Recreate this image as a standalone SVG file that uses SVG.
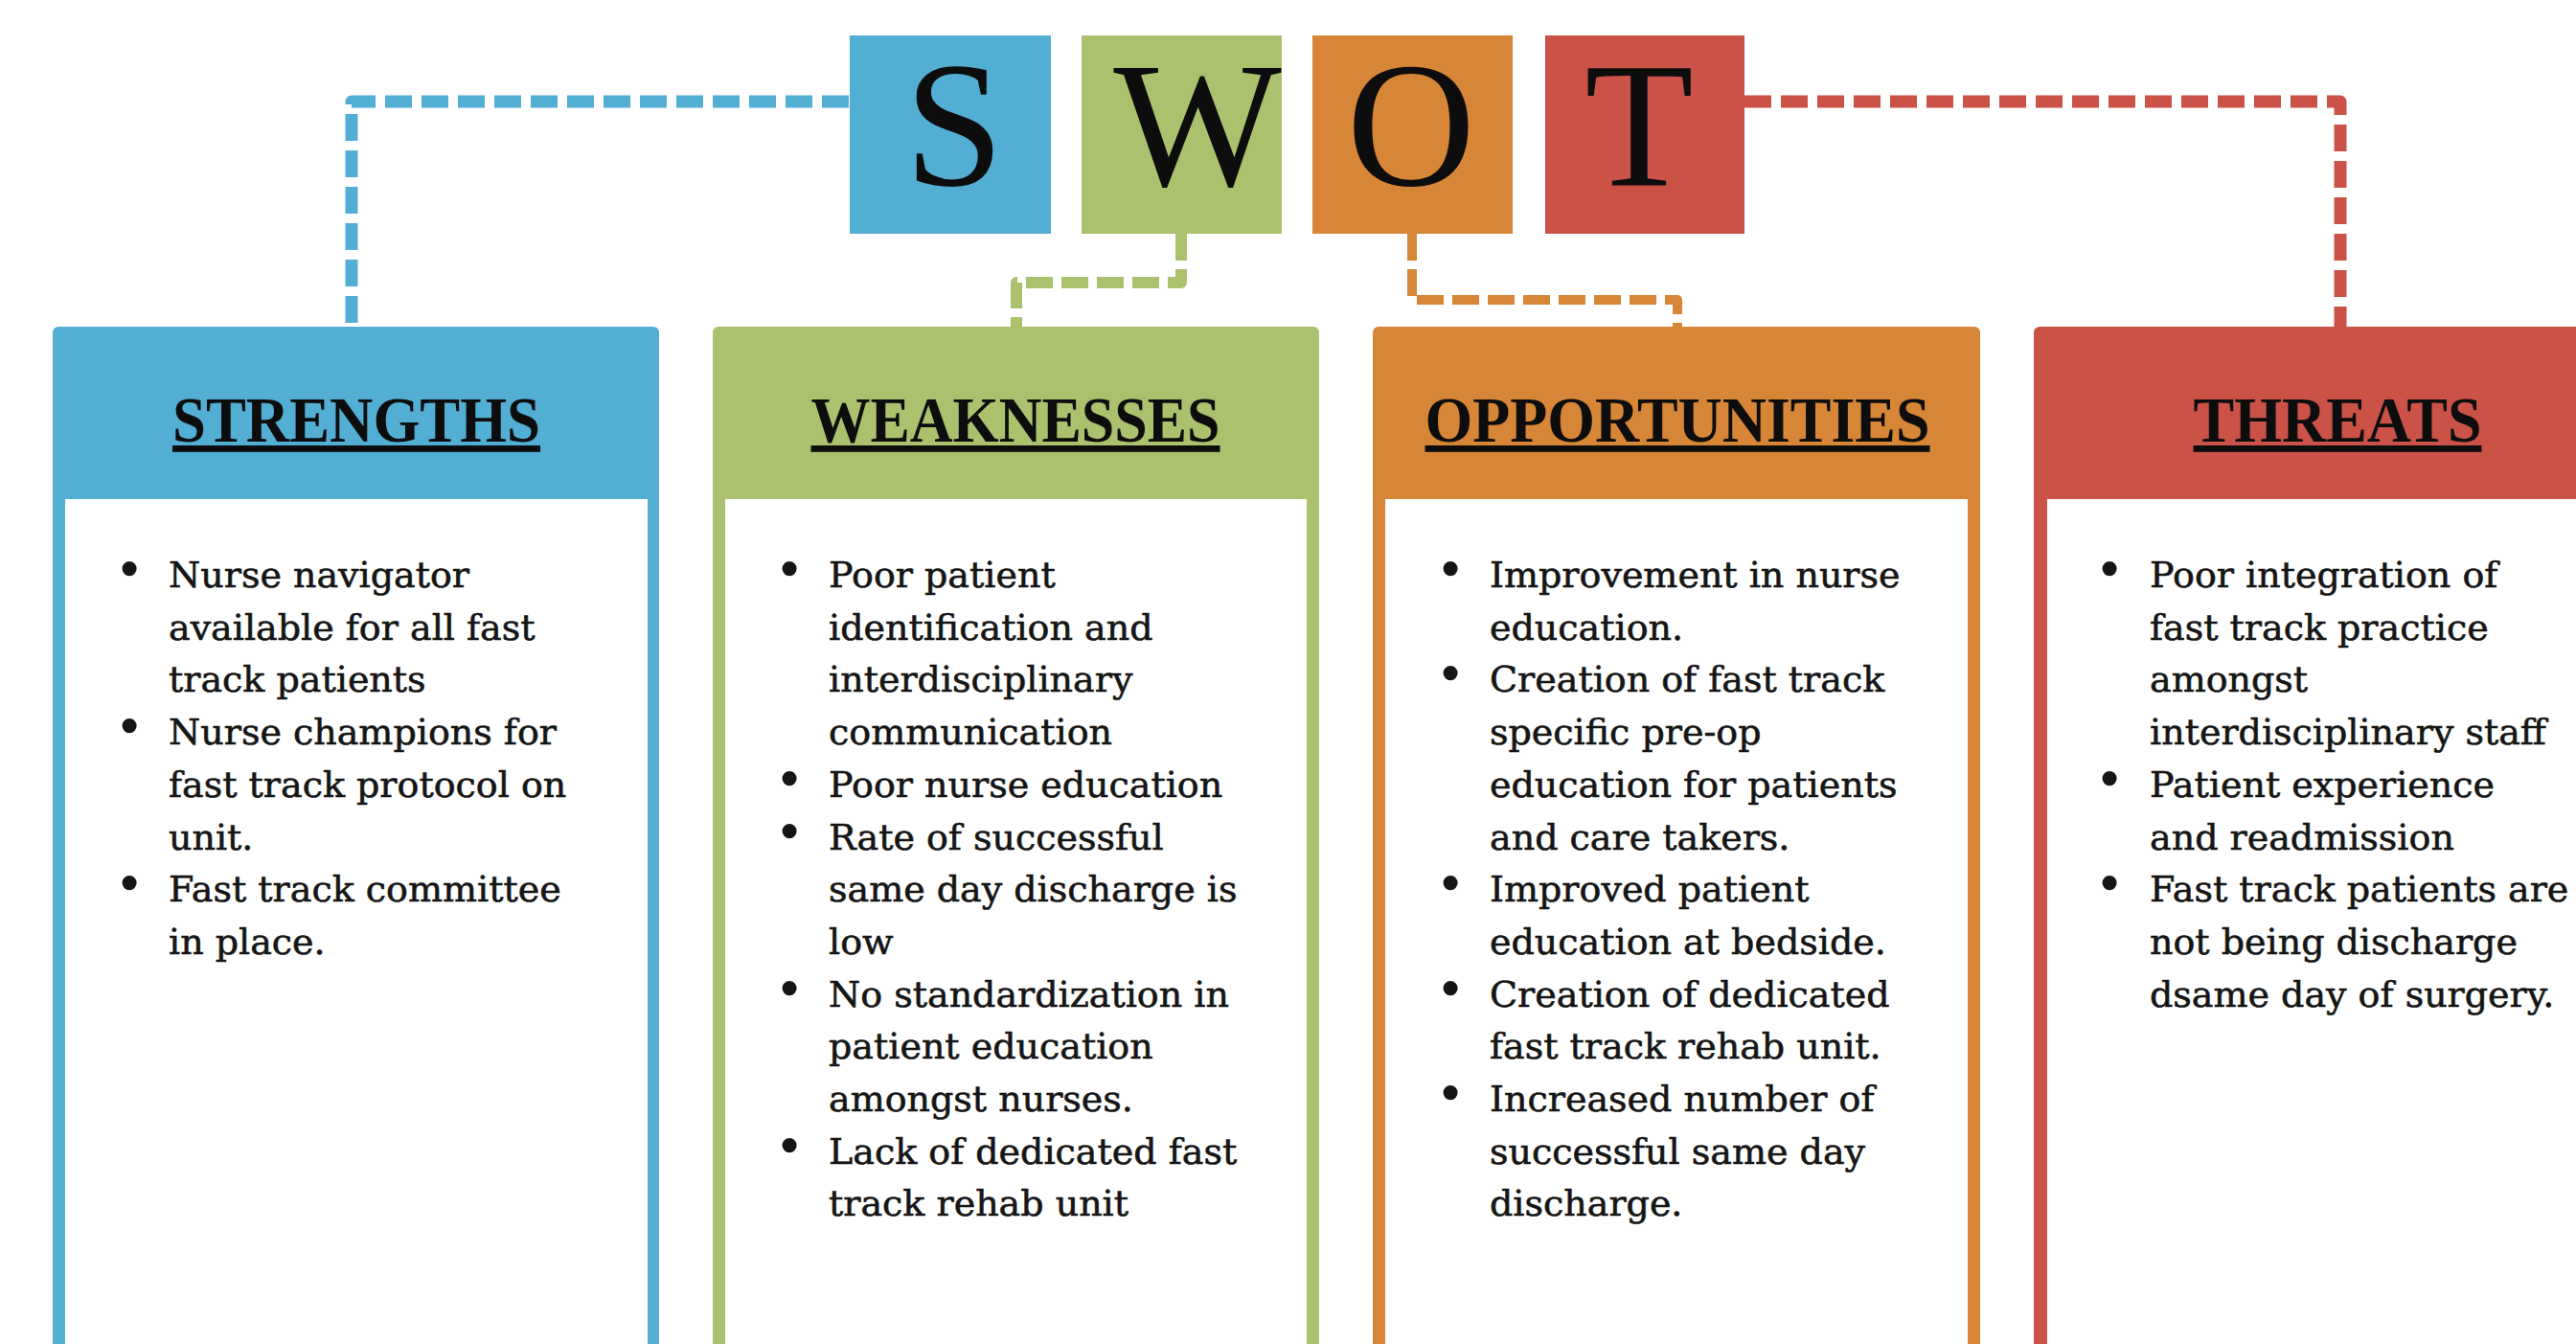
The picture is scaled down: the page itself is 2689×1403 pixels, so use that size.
<svg xmlns="http://www.w3.org/2000/svg" width="2689" height="1403" viewBox="0 0 2689 1403">
<style>
.letter{font-family:"Liberation Serif","Times New Roman",serif;font-size:186px;fill:#0d0d0d;text-anchor:middle}
.head{font-family:"Liberation Serif","Times New Roman",serif;font-weight:bold;font-size:68px;fill:#0d0d0d;text-anchor:middle;text-decoration:underline}
.body{font-family:"DejaVu Serif","Liberation Serif",serif;font-size:38px;fill:#151515;stroke:#151515;stroke-width:0.6px}
.bul{font-family:"DejaVu Serif","Liberation Serif",serif;font-size:52px;fill:#151515;text-anchor:middle}
.conn{fill:none;stroke-linejoin:round}
.blue{fill:#53AED4}.green{fill:#ABC16E}.orange{fill:#D78637}.red{fill:#CB5247}
.inner{fill:#ffffff}
</style>
<rect x="0" y="0" width="2689" height="1403" fill="#ffffff"/>
<g id="connectors">
<path class="conn" d="M886,106 H367 V341" stroke="#53AED4" stroke-width="13" stroke-dasharray="28 10"/>
<path class="conn" d="M1233,244 V295 H1061 V341" stroke="#ABC16E" stroke-width="12" stroke-dasharray="28 9"/>
<path class="conn" d="M1474,244 V313 H1751 V341" stroke="#D78637" stroke-width="10" stroke-dasharray="28 9"/>
<path class="conn" d="M1821,106 H2443 V341" stroke="#CB5247" stroke-width="13" stroke-dasharray="28 10"/>
</g>
<g id="letter-S"><rect class="blue" x="887" y="37" width="210" height="207"/><text class="letter" x="996" y="193">S</text></g>
<g id="letter-W"><rect class="green" x="1129" y="37" width="209" height="207"/><text class="letter" x="1250" y="193">W</text></g>
<g id="letter-O"><rect class="orange" x="1370" y="37" width="209" height="207"/><text class="letter" x="1473" y="193">O</text></g>
<g id="letter-T"><rect class="red" x="1613" y="37" width="208" height="207"/><text class="letter" x="1711" y="193">T</text></g>

<g id="strengths">
<rect class="blue" x="55" y="341" width="633" height="1200" rx="6"/>
<rect class="inner" x="68" y="521" width="608" height="1000"/>
<text class="head" x="372" y="461" textLength="384" lengthAdjust="spacingAndGlyphs">STRENGTHS</text>
<text class="bul" x="135" y="613">•<tspan x="135" dy="164.1">•</tspan><tspan x="135" dy="164.1">•</tspan></text>
<text class="body" x="176" y="613">Nurse navigator<tspan x="176" dy="54.7">available for all fast</tspan><tspan x="176" dy="54.7">track patients</tspan><tspan x="176" dy="54.7">Nurse champions for</tspan><tspan x="176" dy="54.7">fast track protocol on</tspan><tspan x="176" dy="54.7">unit.</tspan><tspan x="176" dy="54.7">Fast track committee</tspan><tspan x="176" dy="54.7">in place.</tspan></text>
</g>

<g id="weaknesses">
<rect class="green" x="744" y="341" width="633" height="1200" rx="6"/>
<rect class="inner" x="757" y="521" width="607" height="1000"/>
<text class="head" x="1060" y="461" textLength="427" lengthAdjust="spacingAndGlyphs">WEAKNESSES</text>
<text class="bul" x="824" y="613">•<tspan x="824" dy="218.8">•</tspan><tspan x="824" dy="54.7">•</tspan><tspan x="824" dy="164.1">•</tspan><tspan x="824" dy="164.1">•</tspan></text>
<text class="body" x="865" y="613">Poor patient<tspan x="865" dy="54.7">identification and</tspan><tspan x="865" dy="54.7">interdisciplinary</tspan><tspan x="865" dy="54.7">communication</tspan><tspan x="865" dy="54.7">Poor nurse education</tspan><tspan x="865" dy="54.7">Rate of successful</tspan><tspan x="865" dy="54.7">same day discharge is</tspan><tspan x="865" dy="54.7">low</tspan><tspan x="865" dy="54.7">No standardization in</tspan><tspan x="865" dy="54.7">patient education</tspan><tspan x="865" dy="54.7">amongst nurses.</tspan><tspan x="865" dy="54.7">Lack of dedicated fast</tspan><tspan x="865" dy="54.7">track rehab unit</tspan></text>
</g>

<g id="opportunities">
<rect class="orange" x="1433" y="341" width="634" height="1200" rx="6"/>
<rect class="inner" x="1446" y="521" width="608" height="1000"/>
<text class="head" x="1751" y="461" textLength="527" lengthAdjust="spacingAndGlyphs">OPPORTUNITIES</text>
<text class="bul" x="1514" y="613">•<tspan x="1514" dy="109.4">•</tspan><tspan x="1514" dy="218.8">•</tspan><tspan x="1514" dy="109.4">•</tspan><tspan x="1514" dy="109.4">•</tspan></text>
<text class="body" x="1555" y="613">Improvement in nurse<tspan x="1555" dy="54.7">education.</tspan><tspan x="1555" dy="54.7">Creation of fast track</tspan><tspan x="1555" dy="54.7">specific pre-op</tspan><tspan x="1555" dy="54.7">education for patients</tspan><tspan x="1555" dy="54.7">and care takers.</tspan><tspan x="1555" dy="54.7">Improved patient</tspan><tspan x="1555" dy="54.7">education at bedside.</tspan><tspan x="1555" dy="54.7">Creation of dedicated</tspan><tspan x="1555" dy="54.7">fast track rehab unit.</tspan><tspan x="1555" dy="54.7">Increased number of</tspan><tspan x="1555" dy="54.7">successful same day</tspan><tspan x="1555" dy="54.7">discharge.</tspan></text>
</g>

<g id="threats">
<rect class="red" x="2123" y="341" width="633" height="1200" rx="6"/>
<rect class="inner" x="2137" y="521" width="606" height="1000"/>
<text class="head" x="2440" y="461" textLength="301" lengthAdjust="spacingAndGlyphs">THREATS</text>
<text class="bul" x="2202" y="613">•<tspan x="2202" dy="218.8">•</tspan><tspan x="2202" dy="109.4">•</tspan></text>
<text class="body" x="2244" y="613">Poor integration of<tspan x="2244" dy="54.7">fast track practice</tspan><tspan x="2244" dy="54.7">amongst</tspan><tspan x="2244" dy="54.7">interdisciplinary staff</tspan><tspan x="2244" dy="54.7">Patient experience</tspan><tspan x="2244" dy="54.7">and readmission</tspan><tspan x="2244" dy="54.7">Fast track patients are</tspan><tspan x="2244" dy="54.7">not being discharge</tspan><tspan x="2244" dy="54.7">dsame day of surgery.</tspan></text>
</g>
</svg>
